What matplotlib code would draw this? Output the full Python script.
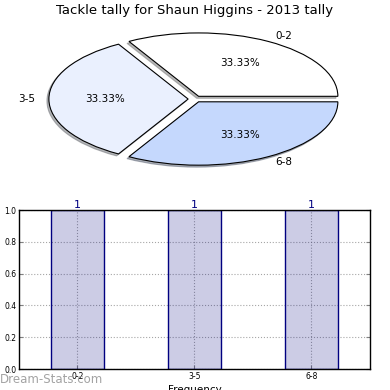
import numpy as np
import matplotlib
matplotlib.use('Agg')
import matplotlib.pyplot as plt

# data
categories = ['0-2', '3-5', '6-8']
counts = [1, 1, 1]
pie_colors = ['#ffffff', '#eaf0fe', '#c5d8fd']
title = 'Tackle tally for Shaun Higgins - 2013 tally'

fig = plt.figure(figsize=(3.9, 3.9), dpi=100)

# ... pie on top, stretched (no equal aspect) ...
axp = fig.add_axes([0.0718, 0.551, 0.857, 0.39])
wedges, texts, autotexts = axp.pie(counts, labels=categories, colors=pie_colors,
                                   explode=(0.05, 0.05, 0.05), autopct='%.2f%%',
                                   shadow={'ox': -0.01, 'oy': -0.022, 'shade': 0.55},
                                   startangle=0, labeldistance=1.1,
                                   wedgeprops=dict(edgecolor='black', linewidth=0.8),
                                   textprops=dict(fontsize=7.5))
axp.set_aspect('auto')
axp.set_xlim(-1.2, 1.2)
axp.set_ylim(-1.2, 1.2)
fig.text(0.5, 0.973, title, ha='center', va='center', fontsize=9.5)

# ... frequency bars below ...
ax = fig.add_axes([0.0487, 0.0538, 0.9, 0.4077])
x = np.arange(len(categories))
ax.bar(x, counts, width=0.45, facecolor=(0, 0, 0.5, 0.2), edgecolor='navy',
       linewidth=1.0, zorder=2)
for xi, c in zip(x, counts):
    ax.text(xi, c, '{:d}'.format(c), ha='center', va='bottom', color='navy',
            fontsize=8)
ax.set_xlim(-0.5, 2.5)
ax.set_ylim(0, 1.0)
ax.set_xticks(x)
ax.set_xticklabels(categories)
ax.set_yticks(np.arange(0, 1.01, 0.2))
ax.tick_params(labelsize=5.5, direction='in', length=3, top=False, right=True,
               color='gray', pad=2)
ax.grid(axis='both', which='major', linestyle=':', color='gray', alpha=0.7, zorder=3)
ax.set_xlabel('Frequency', fontsize=7.5, labelpad=3)
for s in ax.spines.values():
    s.set_linewidth(1.0)

# ... watermark ...
fig.text(0.0, 0.026, 'Dream-Stats.com', ha='left', va='center', fontsize=8.5,
         color='#999999', alpha=0.9)

fig.savefig('out.png', dpi=100)
